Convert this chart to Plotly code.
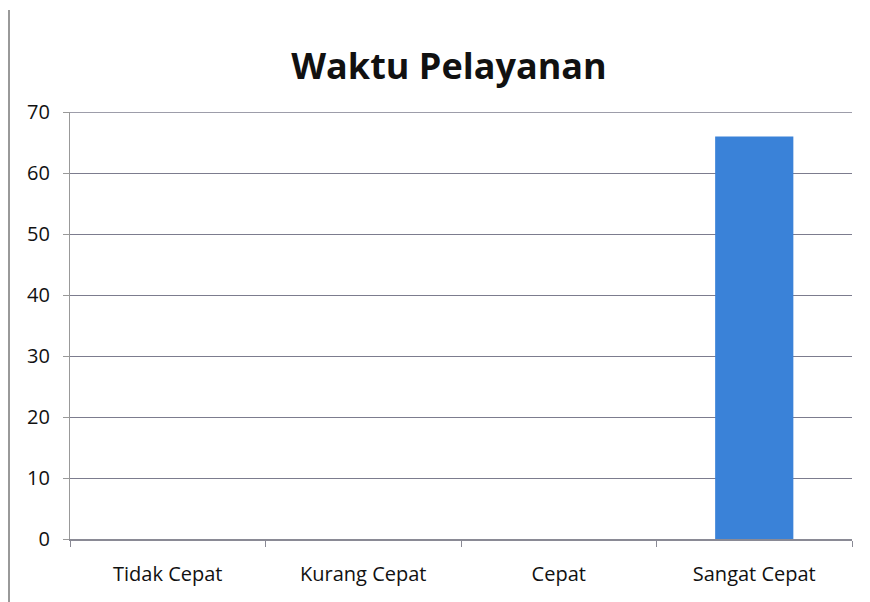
import plotly.graph_objects as go

categories = ["Tidak Cepat", "Kurang Cepat", "Cepat", "Sangat Cepat"]
values = [0, 0, 0, 66]
y_ticks = [0, 10, 20, 30, 40, 50, 60, 70]

fig = go.Figure()
fig.add_trace(go.Bar(
    x=categories, y=values,
    marker=dict(color="#3A82D8", line=dict(width=0)),
    width=0.4,
))

font_family = "'Open Sans', Lato, sans-serif"
L, T, W, H = 62, 104, 782, 427
grid_color = "#7c7c8e"
fig.update_layout(
    width=870, height=602,
    margin=dict(l=L, r=870 - L - W, t=T, b=602 - T - H),
    paper_bgcolor="white", plot_bgcolor="white",
    showlegend=False,
    title=dict(text="<b>Waktu Pelayanan</b>", xref="container", x=441 / 870,
               xanchor="center", y=1 - 58 / 602, yanchor="middle",
               font=dict(family=font_family, size=36, color="#111")),
    font=dict(family=font_family, size=20, color="#111"),
)
fig.update_xaxes(
    type="category", showline=True, linecolor="#8a8a95", linewidth=1.5,
    ticks="outside", tickson="boundaries", ticklen=6, tickcolor="#8a8a95",
    showgrid=False, tickfont=dict(size=20), ticklabelstandoff=16,
)
fig.update_yaxes(
    range=[0, 70], tickvals=y_ticks, showline=True, linecolor="#999",
    linewidth=1.2, ticks="outside", ticklen=6, tickcolor="#999",
    showgrid=True, gridcolor=grid_color, gridwidth=1.3, zeroline=False,
    tickfont=dict(size=20), ticklabelstandoff=9,
)
# top gridline at 70 (plotly omits the gridline on the plot edge)
fig.add_shape(type="line", xref="paper", yref="y",
              x0=0, x1=1, y0=y_ticks[-1], y1=y_ticks[-1],
              line=dict(color=grid_color, width=1.3), layer="below")
fig.add_shape(type="line", xref="paper", yref="paper",
              x0=(1 - L) / W, x1=(1 - L) / W,
              y0=(T + H - 2) / H, y1=(T + H - 594) / H,
              line=dict(color="#777", width=1.5))

fig.write_html("out.html")
